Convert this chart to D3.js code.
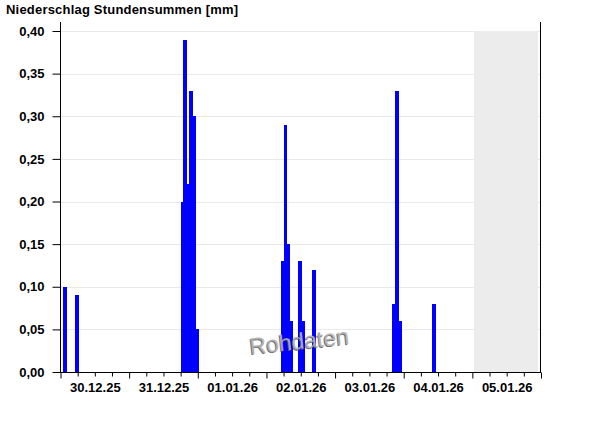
<!DOCTYPE html>
<html>
<head>
<meta charset="utf-8">
<script src="https://cdn.jsdelivr.net/npm/d3@7"></script>
<style>
  body { margin: 0; background: #fff; }
  svg text { font-family: "Liberation Sans", Arial, sans-serif; }
</style>
</head>
<body>
<div id="chart"></div>
<script>
// hourly precipitation sums (start of hour) and values in mm
var hours = [
  "2025-12-30 01:00", "2025-12-30 05:00",
  "2025-12-31 18:00", "2025-12-31 19:00", "2025-12-31 20:00", "2025-12-31 21:00", "2025-12-31 22:00", "2025-12-31 23:00",
  "2026-01-02 05:00", "2026-01-02 06:00", "2026-01-02 07:00", "2026-01-02 08:00",
  "2026-01-02 11:00", "2026-01-02 12:00", "2026-01-02 16:00",
  "2026-01-03 20:00", "2026-01-03 21:00", "2026-01-03 22:00",
  "2026-01-04 10:00"
];
var values = [
  0.10, 0.09,
  0.20, 0.39, 0.22, 0.33, 0.30, 0.05,
  0.13, 0.29, 0.15, 0.06,
  0.13, 0.06, 0.12,
  0.08, 0.33, 0.06,
  0.08
];
var yTicks = [0, 0.05, 0.10, 0.15, 0.20, 0.25, 0.30, 0.35, 0.40];
var dayLabels = ["2025-12-30", "2025-12-31", "2026-01-01", "2026-01-02", "2026-01-03", "2026-01-04", "2026-01-05"];
var domainStart = "2025-12-30 00:00", domainEnd = "2026-01-06 00:00";
var futureStart = "2026-01-05 00:30";

var parseHour = d3.timeParse("%Y-%m-%d %H:%M");
var parseDay = d3.timeParse("%Y-%m-%d");

var svg = d3.select("#chart")
  .append("svg")
    .attr("width", 600)
    .attr("height", 426);

var x = d3.scaleTime()
  .domain([parseHour(domainStart), parseHour(domainEnd)])
  .range([60.5, 541]);

var y = d3.scaleLinear()
  .domain([0, 0.40])
  .range([372, 31]);

var de = d3.formatLocale({decimal: ",", thousands: ".", grouping: [3], currency: ["", " €"]});

// grid lines
svg.append("g")
  .selectAll("line")
  .data(yTicks.slice(1))
  .enter()
  .append("line")
    .attr("x1", 60).attr("x2", 540)
    .attr("y1", function (d) { return Math.round(y(d)) + 0.5; })
    .attr("y2", function (d) { return Math.round(y(d)) + 0.5; })
    .style("stroke", "#e9e9e9");

// grey area (no data yet)
svg.append("rect")
  .attr("x", Math.round(x(parseHour(futureStart))))
  .attr("y", Math.round(y(0.40)))
  .attr("width", 538 - Math.round(x(parseHour(futureStart))))
  .attr("height", 372 - Math.round(y(0.40)))
  .style("fill", "#ececec");

// bars
var data = hours.map(function (h, i) { return {t: parseHour(h), v: values[i]}; });
svg.append("g")
  .selectAll("rect")
  .data(data)
  .enter()
  .append("rect")
    .attr("x", function (d) { return Math.round(x(d.t)); })
    .attr("width", function (d) { return Math.round(x(d3.timeHour.offset(d.t, 1))) - Math.round(x(d.t)) + 1; })
    .attr("y", function (d) { return Math.round(y(d.v)); })
    .attr("height", function (d) { return 372 - Math.round(y(d.v)); })
    .style("fill", "#0000ff");

// watermark
var wm = svg.append("g").attr("transform", "translate(300,349) rotate(-6)");
wm.append("text")
  .attr("x", -1).attr("y", 1)
  .attr("text-anchor", "middle")
  .style("font-size", "23px")
  .style("fill", "#555")
  .style("opacity", 0.8)
  .text("Rohdaten");
wm.append("text")
  .attr("text-anchor", "middle")
  .style("font-size", "23px")
  .style("fill", "#b4b4b4")
  .style("opacity", 0.9)
  .text("Rohdaten");

// y axis
var yAxis = svg.append("g")
  .attr("transform", "translate(60.5,0)")
  .call(d3.axisLeft(y).tickValues(yTicks).tickSize(8).tickPadding(8).tickFormat(de.format(".2f")));
yAxis.select(".domain").remove();
yAxis.selectAll("text").style("font-size", "13px").style("font-weight", "bold").style("fill", "#000");
yAxis.selectAll("line").style("stroke", "#000");

// frame lines
svg.append("line").attr("x1", 60.5).attr("x2", 60.5).attr("y1", 22).attr("y2", 372).style("stroke", "#000");
svg.append("line").attr("x1", 540.5).attr("x2", 540.5).attr("y1", 22).attr("y2", 372).style("stroke", "#000");

// x axis ticks every 6 hours, longer at midnight
var xAxis = svg.append("g")
  .attr("transform", "translate(0,372.5)")
  .call(d3.axisBottom(x).ticks(d3.timeHour.every(6)).tickSize(4).tickFormat(""));
xAxis.select(".domain").attr("d", "M60,0H541").style("stroke", "#000");
xAxis.selectAll(".tick line")
  .attr("y2", function (d) { return d.getHours() === 0 ? 6 : 4; })
  .style("stroke", "#000");

// day labels centred at noon
var labelAxis = svg.append("g")
  .attr("transform", "translate(0,372)")
  .call(d3.axisBottom(x)
    .tickValues(dayLabels.map(function (d) { return d3.timeHour.offset(parseDay(d), 12); }))
    .tickSize(0).tickPadding(11)
    .tickFormat(d3.timeFormat("%d.%m.%y")));
labelAxis.select(".domain").remove();
labelAxis.selectAll("text").style("font-size", "13px").style("font-weight", "bold").style("fill", "#000");

// title
svg.append("text")
  .attr("x", 6).attr("y", 14)
  .style("font-size", "13px")
  .style("font-weight", "bold")
  .style("letter-spacing", "0.2px")
  .text("Niederschlag Stundensummen [mm]");
</script>
</body>
</html>
